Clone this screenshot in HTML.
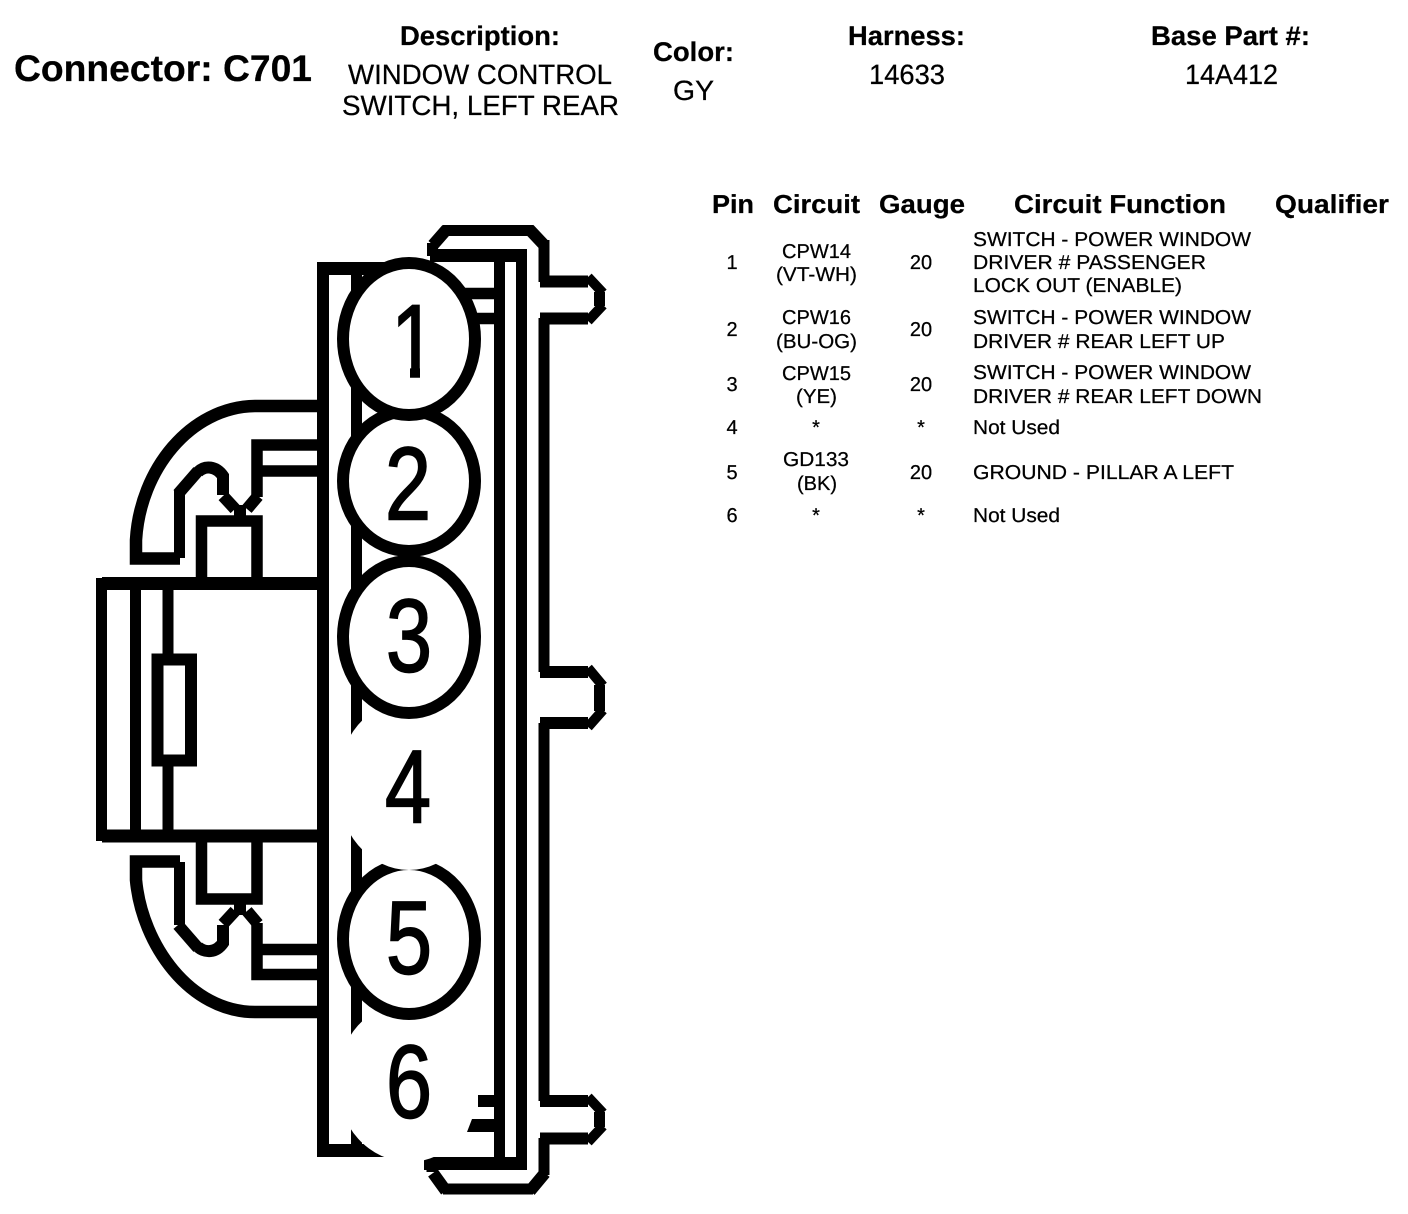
<!DOCTYPE html>
<html><head><meta charset="utf-8"><title>Connector C701</title>
<style>
html,body{margin:0;padding:0;background:#fff}
svg{display:block}
text{font-family:"Liberation Sans",sans-serif;fill:#000;stroke:#000;stroke-width:.25px;text-rendering:geometricPrecision}
.b{font-weight:bold}
.h{font-size:27px}
.v{font-size:28px}
.t{font-weight:bold;font-size:26px}
.r{font-size:20px}
.d{font-size:104px;stroke-width:1.6px}
</style></head>
<body>
<svg xmlns="http://www.w3.org/2000/svg" width="1408" height="1214" viewBox="0 0 1408 1214">
<rect width="1408" height="1214" fill="#fff"/>
<g fill="none" stroke="#000" stroke-width="12">
  <!-- housing walls -->
  <path d="M323 262V1157" />
  <path d="M318 268.500H400M318 1150.500H385" stroke-width="13"/>
  <path d="M356.500 270V1146" stroke-width="11"/>
  <path d="M499.500 249V1170M521.500 249V1170" stroke-width="11"/>
  <path d="M430 255.500H527M424 1163.500H527" stroke-width="13"/>
  <path d="M432.500 256V243M443 230.500H533M544 240V282M544 318V672M544 723V1101M544 1138V1175M443 1189H533M432 1163V1172" stroke-width="11"/>
  <path d="M433 245L447 229M529 229L545 246M433 1173L446 1191M530 1191L545 1173" stroke-width="12"/>
  <!-- tabs -->
  <path d="M540 281.500H588M540 318.500H588M540 672H588M540 723H588M540 1101H588M540 1138.500H588" stroke-width="12"/>
  <path d="M599.500 292V306M599.500 685V711M599.500 1112V1127" stroke-width="11"/>
  <path d="M588 277L603 293M603 305L588 321M588 668L603 686M603 710L588 727M588 1097L603 1113M603 1126L588 1142" stroke-width="10"/>
  <!-- left block -->
  <path d="M102 583.500H318M102 836H318" stroke-width="13"/>
  <path d="M101.500 578V841M135.500 583V836M168 583V660M168 760V836" stroke-width="11"/>
  <rect x="157.500" y="659.500" width="33.500" height="101" stroke-width="12" fill="#fff"/>
  <!-- upper clip -->
  <path d="M318 406H255C190 407 140 470 136 540V558.500H180" stroke-width="12.500"/>
  <path d="M179.500 558V490" stroke-width="11"/>
  <path d="M178 494L198 471" stroke-width="12"/>
  <path d="M198 472C205 465 216 466 223 476V495" stroke-width="12"/>
  <path d="M223 496L235 509M258 496L247 509" stroke-width="12"/>
  <path d="M257 497V445H318M257 471H318" stroke-width="11.500"/>
  <path d="M240 505V521" stroke-width="12"/>
  <path d="M201.500 578V521H257V578" stroke-width="11.500"/>
  <!-- lower clip -->
  <path d="M318 1012H255C190 1012 142 945 136 880V861.500H180" stroke-width="12.500"/>
  <path d="M179.500 862V925" stroke-width="11"/>
  <path d="M178 925L198 948" stroke-width="12"/>
  <path d="M198 947C205 953 216 953 223 943V925" stroke-width="12"/>
  <path d="M223 924L235 911M258 924L247 911" stroke-width="12"/>
  <path d="M257 923V974.500H318M257 949.500H318" stroke-width="11.500"/>
  <path d="M240 915V899" stroke-width="12"/>
  <path d="M201.500 841V899H257V841" stroke-width="11.500"/>
  <!-- short ticks right of pin 1 -->
  <path d="M465 293.500H495M465 318.500H495" stroke-width="11.500"/>
</g>
<!-- blanks for unused cavities and circle 5 -->
<ellipse cx="409" cy="1082" rx="72" ry="80" fill="#fff"/>
<ellipse cx="409" cy="939" rx="66" ry="75" fill="#fff" stroke="#000" stroke-width="12"/>
<ellipse cx="409" cy="785" rx="72" ry="85" fill="#fff"/>
<g fill="#fff" stroke="#000" stroke-width="12">
  <ellipse cx="409" cy="481" rx="66" ry="70"/>
  <ellipse cx="409" cy="637" rx="66" ry="76"/>
  <ellipse cx="409" cy="339" rx="66" ry="76"/>
</g>
<path d="M494 1095H478L478 1107H494ZM494 1119H472L467 1132H494Z" fill="#000"/>

<!-- cavity numbers, condensed to the reference glyph width -->
<text class="d" text-anchor="middle" transform="translate(414 377) scale(.8 1)">1</text>
<rect x="390" y="366" width="20" height="13" fill="#fff"/>
<rect x="420" y="366" width="20" height="13" fill="#fff"/>
<text class="d" text-anchor="middle" transform="translate(408 519.500) scale(.8 1)">2</text>
<text class="d" text-anchor="middle" transform="translate(409 671.500) scale(.8 1)">3</text>
<text class="d" text-anchor="middle" transform="translate(408 822.500) scale(.8 1)">4</text>
<text class="d" text-anchor="middle" transform="translate(409 973.500) scale(.8 1)">5</text>
<text class="d" text-anchor="middle" transform="translate(409 1117.500) scale(.8 1)">6</text>

<!-- header -->
<text class="b" font-size="37" x="14" y="81" textLength="298" lengthAdjust="spacingAndGlyphs">Connector: C701</text>
<text class="b h" x="400" y="45" textLength="160" lengthAdjust="spacingAndGlyphs">Description:</text>
<text class="v" x="348" y="84" textLength="264" lengthAdjust="spacingAndGlyphs">WINDOW CONTROL</text>
<text class="v" x="342" y="115" textLength="277" lengthAdjust="spacingAndGlyphs">SWITCH, LEFT REAR</text>
<text class="b h" x="653" y="61" textLength="81" lengthAdjust="spacingAndGlyphs">Color:</text>
<text class="v" x="673" y="100" textLength="41" lengthAdjust="spacingAndGlyphs">GY</text>
<text class="b h" x="848" y="45" textLength="117" lengthAdjust="spacingAndGlyphs">Harness:</text>
<text class="v" x="869" y="84" textLength="76" lengthAdjust="spacingAndGlyphs">14633</text>
<text class="b h" x="1151" y="45" textLength="159" lengthAdjust="spacingAndGlyphs">Base Part #:</text>
<text class="v" x="1185" y="84" textLength="93" lengthAdjust="spacingAndGlyphs">14A412</text>

<!-- table header -->
<text class="t" x="712" y="213" textLength="42" lengthAdjust="spacingAndGlyphs">Pin</text>
<text class="t" x="773" y="213" textLength="87" lengthAdjust="spacingAndGlyphs">Circuit</text>
<text class="t" x="879" y="213" textLength="86" lengthAdjust="spacingAndGlyphs">Gauge</text>
<text class="t" x="1014" y="213" textLength="212" lengthAdjust="spacingAndGlyphs">Circuit Function</text>
<text class="t" x="1275" y="213" textLength="114" lengthAdjust="spacingAndGlyphs">Qualifier</text>

<!-- pins -->
<text class="r" x="732" y="269" text-anchor="middle">1</text>
<text class="r" x="732" y="336" text-anchor="middle">2</text>
<text class="r" x="732" y="391" text-anchor="middle">3</text>
<text class="r" x="732" y="434" text-anchor="middle">4</text>
<text class="r" x="732" y="479" text-anchor="middle">5</text>
<text class="r" x="732" y="522" text-anchor="middle">6</text>

<!-- circuits -->
<text class="r" x="782" y="258" textLength="69" lengthAdjust="spacingAndGlyphs">CPW14</text>
<text class="r" x="776" y="281" textLength="81" lengthAdjust="spacingAndGlyphs">(VT-WH)</text>
<text class="r" x="782" y="324" textLength="69" lengthAdjust="spacingAndGlyphs">CPW16</text>
<text class="r" x="776" y="348" textLength="81" lengthAdjust="spacingAndGlyphs">(BU-OG)</text>
<text class="r" x="782" y="380" textLength="69" lengthAdjust="spacingAndGlyphs">CPW15</text>
<text class="r" x="796" y="403" textLength="41" lengthAdjust="spacingAndGlyphs">(YE)</text>
<text class="r" x="816" y="434" text-anchor="middle">*</text>
<text class="r" x="783" y="466" textLength="66" lengthAdjust="spacingAndGlyphs">GD133</text>
<text class="r" x="797" y="490" textLength="40" lengthAdjust="spacingAndGlyphs">(BK)</text>
<text class="r" x="816" y="522" text-anchor="middle">*</text>

<!-- gauge -->
<text class="r" x="921" y="269" text-anchor="middle">20</text>
<text class="r" x="921" y="336" text-anchor="middle">20</text>
<text class="r" x="921" y="391" text-anchor="middle">20</text>
<text class="r" x="921" y="434" text-anchor="middle">*</text>
<text class="r" x="921" y="479" text-anchor="middle">20</text>
<text class="r" x="921" y="522" text-anchor="middle">*</text>

<!-- functions -->
<text class="r" x="973" y="246" textLength="278" lengthAdjust="spacingAndGlyphs">SWITCH - POWER WINDOW</text>
<text class="r" x="973" y="269" textLength="233" lengthAdjust="spacingAndGlyphs">DRIVER # PASSENGER</text>
<text class="r" x="973" y="292" textLength="209" lengthAdjust="spacingAndGlyphs">LOCK OUT (ENABLE)</text>
<text class="r" x="973" y="324" textLength="278" lengthAdjust="spacingAndGlyphs">SWITCH - POWER WINDOW</text>
<text class="r" x="973" y="348" textLength="252" lengthAdjust="spacingAndGlyphs">DRIVER # REAR LEFT UP</text>
<text class="r" x="973" y="379" textLength="278" lengthAdjust="spacingAndGlyphs">SWITCH - POWER WINDOW</text>
<text class="r" x="973" y="403" textLength="289" lengthAdjust="spacingAndGlyphs">DRIVER # REAR LEFT DOWN</text>
<text class="r" x="973" y="434" textLength="87" lengthAdjust="spacingAndGlyphs">Not Used</text>
<text class="r" x="973" y="479" textLength="261" lengthAdjust="spacingAndGlyphs">GROUND - PILLAR A LEFT</text>
<text class="r" x="973" y="522" textLength="87" lengthAdjust="spacingAndGlyphs">Not Used</text>
</svg>
</body></html>
